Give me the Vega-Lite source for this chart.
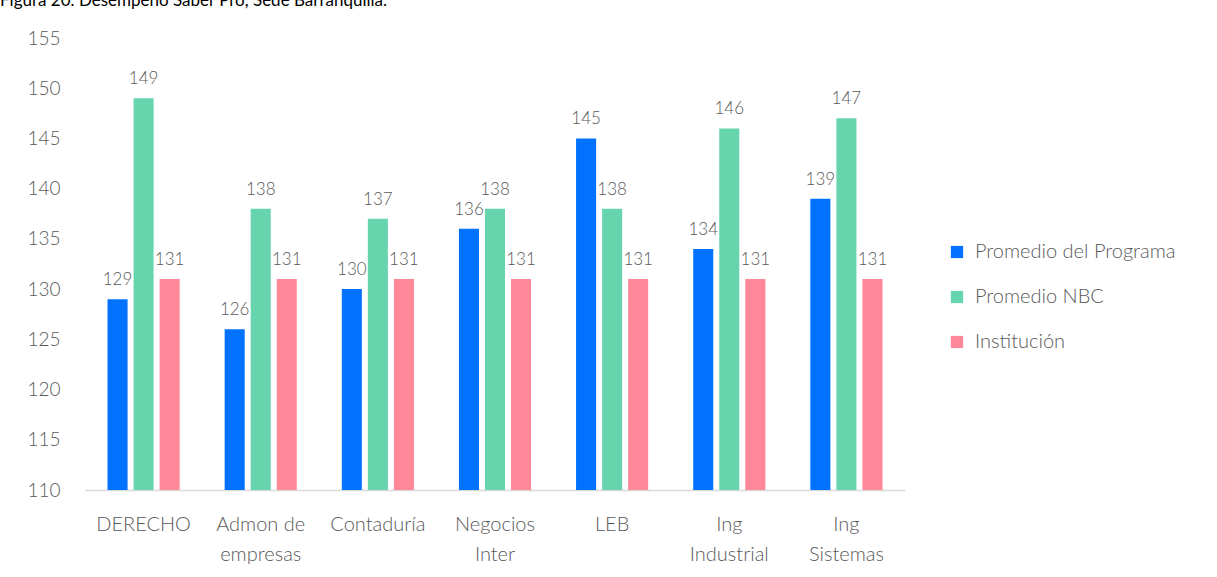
{
  "$schema": "https://vega.github.io/schema/vega-lite/v6.json",
  "autosize": {"type": "none"},
  "width": 820,
  "height": 452,
  "padding": {"left": 85, "top": 38, "right": 312, "bottom": 87},
  "background": "white",
  "title": {
    "text": "Figura 20. Desempeño Saber Pro, Sede Barranquilla.",
    "anchor": "start",
    "frame": "group",
    "dx": -85,
    "offset": 19,
    "fontSize": 17,
    "font": "Lato",
    "fontWeight": "normal",
    "color": "#000000"
  },
  "data": {
    "values": [
      {"programa": "DERECHO", "serie": "Promedio del Programa", "valor": 129},
      {"programa": "DERECHO", "serie": "Promedio NBC", "valor": 149},
      {"programa": "DERECHO", "serie": "Institución", "valor": 131},
      {"programa": "Admon de empresas", "serie": "Promedio del Programa", "valor": 126},
      {"programa": "Admon de empresas", "serie": "Promedio NBC", "valor": 138},
      {"programa": "Admon de empresas", "serie": "Institución", "valor": 131},
      {"programa": "Contaduría", "serie": "Promedio del Programa", "valor": 130},
      {"programa": "Contaduría", "serie": "Promedio NBC", "valor": 137},
      {"programa": "Contaduría", "serie": "Institución", "valor": 131},
      {"programa": "Negocios Inter", "serie": "Promedio del Programa", "valor": 136},
      {"programa": "Negocios Inter", "serie": "Promedio NBC", "valor": 138},
      {"programa": "Negocios Inter", "serie": "Institución", "valor": 131},
      {"programa": "LEB", "serie": "Promedio del Programa", "valor": 145},
      {"programa": "LEB", "serie": "Promedio NBC", "valor": 138},
      {"programa": "LEB", "serie": "Institución", "valor": 131},
      {"programa": "Ing Industrial", "serie": "Promedio del Programa", "valor": 134},
      {"programa": "Ing Industrial", "serie": "Promedio NBC", "valor": 146},
      {"programa": "Ing Industrial", "serie": "Institución", "valor": 131},
      {"programa": "Ing Sistemas", "serie": "Promedio del Programa", "valor": 139},
      {"programa": "Ing Sistemas", "serie": "Promedio NBC", "valor": 147},
      {"programa": "Ing Sistemas", "serie": "Institución", "valor": 131}
    ]
  },
  "encoding": {
    "x": {
      "field": "programa",
      "type": "nominal",
      "sort": ["DERECHO", "Admon de empresas", "Contaduría", "Negocios Inter", "LEB", "Ing Industrial", "Ing Sistemas"],
      "scale": {"paddingInner": 0.333, "paddingOuter": 0.1667},
      "axis": {
        "title": null,
        "labelAngle": 0,
        "labelExpr": "datum.label == 'Admon de empresas' ? ['Admon de', 'empresas'] : split(datum.label, ' ')",
        "labelFontSize": 20,
        "labelLineHeight": 30,
        "labelPadding": 24,
        "labelColor": "#595959",
        "labelFont": "Lato",
        "labelFontWeight": 300,
        "ticks": false,
        "domainColor": "#d9d9d9",
        "domainWidth": 1.5,
        "grid": false
      }
    },
    "xOffset": {
      "field": "serie",
      "type": "nominal",
      "sort": ["Promedio del Programa", "Promedio NBC", "Institución"],
      "scale": {"paddingInner": 0.23, "paddingOuter": 0.115}
    },
    "y": {
      "field": "valor",
      "type": "quantitative",
      "scale": {"domain": [110, 155], "zero": false, "nice": false},
      "axis": {
        "title": null,
        "values": [110, 115, 120, 125, 130, 135, 140, 145, 150, 155],
        "labelFontSize": 19,
        "labelColor": "#595959",
        "labelFont": "Lato",
        "labelFontWeight": 300,
        "labelPadding": 25,
        "ticks": false,
        "domain": false,
        "grid": false
      }
    }
  },
  "layer": [
    {
      "mark": {"type": "bar", "clip": true},
      "encoding": {
        "color": {
          "field": "serie",
          "type": "nominal",
          "sort": ["Promedio del Programa", "Promedio NBC", "Institución"],
          "scale": {
            "domain": ["Promedio del Programa", "Promedio NBC", "Institución"],
            "range": ["#0072FF", "#66D5AE", "#FF8898"]
          },
          "legend": {
            "title": null,
            "orient": "none",
            "legendX": 862,
            "legendY": 204,
            "symbolType": "square",
            "symbolSize": 150,
            "symbolStrokeWidth": 0,
            "labelFontSize": 20,
            "labelFont": "Lato",
            "labelFontWeight": 300,
            "labelColor": "#595959",
            "labelOffset": 8,
            "labelLimit": 0,
            "rowPadding": 25
          }
        }
      }
    },
    {
      "mark": {"type": "text", "baseline": "alphabetic", "dy": -14, "fontSize": 17, "font": "Lato", "fontWeight": 300, "color": "#595959"},
      "encoding": {
        "text": {"field": "valor", "type": "quantitative"}
      }
    }
  ],
  "config": {"view": {"stroke": null}}
}
